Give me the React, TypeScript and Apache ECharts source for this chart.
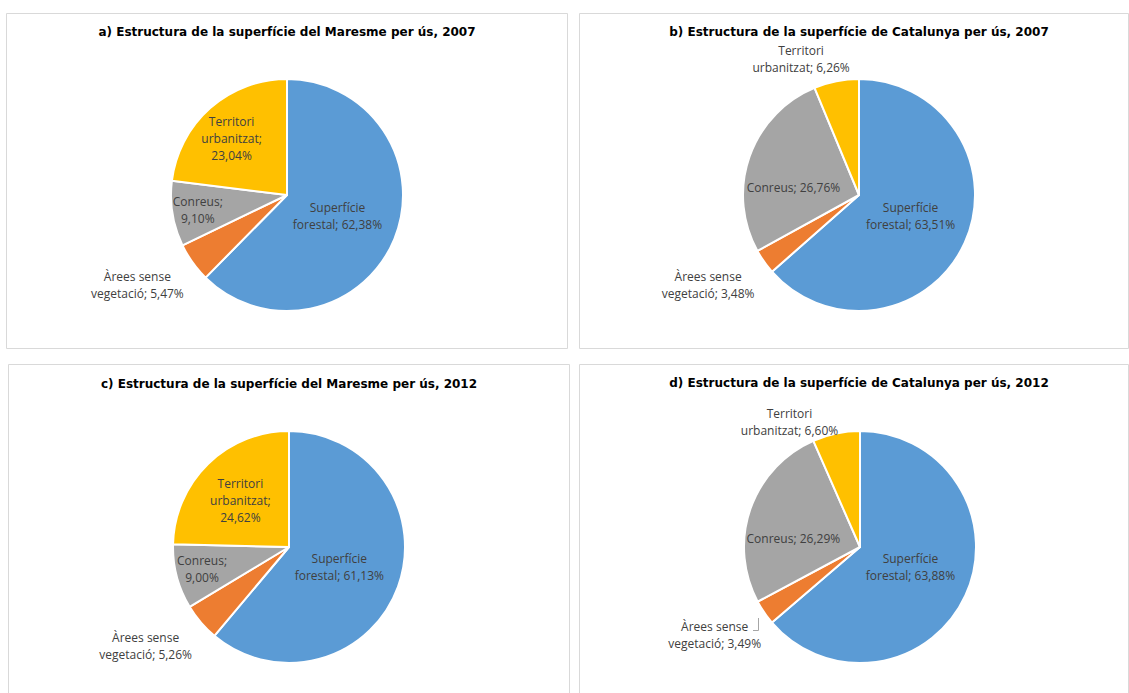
import React, { useEffect, useRef } from "react";
import * as echarts from "echarts";

const categories = ["Superfície forestal", "Àrees sense vegetació", "Conreus", "Territori urbanitzat"];
const colors = ["#5B9BD5", "#ED7D31", "#A5A5A5", "#FFC000"];

const titles = [
  "a) Estructura de la superfície del Maresme per ús, 2007",
  "b) Estructura de la superfície de Catalunya per ús, 2007",
  "c) Estructura de la superfície del Maresme per ús, 2012",
  "d) Estructura de la superfície de Catalunya per ús, 2012",
];

const maresme2007 = [62.38, 5.47, 9.10, 23.04];
const catalunya2007 = [63.51, 3.48, 26.76, 6.26];
const maresme2012 = [61.13, 5.26, 9.00, 24.62];
const catalunya2012 = [63.88, 3.49, 26.29, 6.60];

// label text layouts per chart: name + separator
const labelNames = [
  ["Superfície\nforestal; ", "Àrees sense\nvegetació; ", "Conreus;\n", "Territori\nurbanitzat;\n"],
  ["Superfície\nforestal; ", "Àrees sense\nvegetació; ", "Conreus; ", "Territori\nurbanitzat; "],
  ["Superfície\nforestal; ", "Àrees sense\nvegetació; ", "Conreus;\n", "Territori\nurbanitzat;\n"],
  ["Superfície\nforestal; ", "Àrees sense\nvegetació; ", "Conreus; ", "Territori\nurbanitzat; "],
];

const labelOffsets = [
  [[-6, -2], [-100, 55], [-29, 5], [-15, -11]],
  [[-4, -4], [-101, 55], [-8, 13], [-46, -76]],
  [[-7, -1], [-97, 59], [-28, 6], [-6, -3]],
  [[-5, -5], [-95, 54], [-9, 11], [-58, -65]],
];

const panels = [
  { values: maresme2007, center: [287, 195], titleX: 287, titleY: 26, box: [6.5, 13.5, 561, 335] },
  { values: catalunya2007, center: [859, 195], titleX: 859, titleY: 26, box: [579.5, 13.5, 549, 335] },
  { values: maresme2012, center: [289, 547], titleX: 289, titleY: 378, box: [8.5, 364.5, 561, 340] },
  { values: catalunya2012, center: [860, 547], titleX: 859, titleY: 377, box: [579.5, 364.5, 549, 340] },
];

const fmt = (v: number) => v.toFixed(2).replace(".", ",") + "%";

export default function App() {
  const ref = useRef<HTMLDivElement>(null);
  useEffect(() => {
    if (!ref.current) return;
    const chart = echarts.init(ref.current, null, { renderer: "svg" });
    const series = panels.map((p, pi) => ({
      type: "pie",
      center: p.center,
      radius: 116,
      startAngle: 90,
      clockwise: true,
      avoidLabelOverlap: false,
      silent: true,
      itemStyle: { borderColor: "#ffffff", borderWidth: 2 },
      labelLine: { show: false },
      label: {
        show: true,
        position: "inside",
        fontFamily: "Open Sans",
        fontSize: 12,
        lineHeight: 17,
        color: "#404040",
        align: "center",
      },
      data: categories.map((c, i) => ({
        name: c,
        value: p.values[i],
        itemStyle: { color: colors[i] },
        label: {
          offset: labelOffsets[pi][i],
          formatter: labelNames[pi][i] + fmt(p.values[i]),
        },
      })),
    }));
    const option: any = {
      animation: false,
      backgroundColor: "#ffffff",
      title: panels.map((p, i) => ({
        text: titles[i],
        left: p.titleX,
        top: p.titleY,
        textAlign: "center",
        padding: 0,
        textStyle: {
          fontFamily: "DejaVu Sans",
          fontWeight: "bold",
          fontSize: 12,
          color: "#000000",
        },
      })),
      graphic: [
        ...panels.map((p) => ({
          type: "rect",
          shape: { x: p.box[0], y: p.box[1], width: p.box[2], height: p.box[3] },
          style: { fill: "none", stroke: "#D9D9D9", lineWidth: 1 },
          z: -1,
        })),
        {
          type: "polyline",
          shape: { points: [[753, 630.5], [758.5, 630.5], [758.5, 618]] },
          style: { fill: "none", stroke: "#A6A6A6", lineWidth: 1 },
        },
      ],
      series,
    };
    chart.setOption(option);
    return () => chart.dispose();
  }, []);
  return (
    <div
      ref={ref}
      style={{ position: "absolute", left: 0, top: 0, width: 1129, height: 693, background: "#fff" }}
    />
  );
}
